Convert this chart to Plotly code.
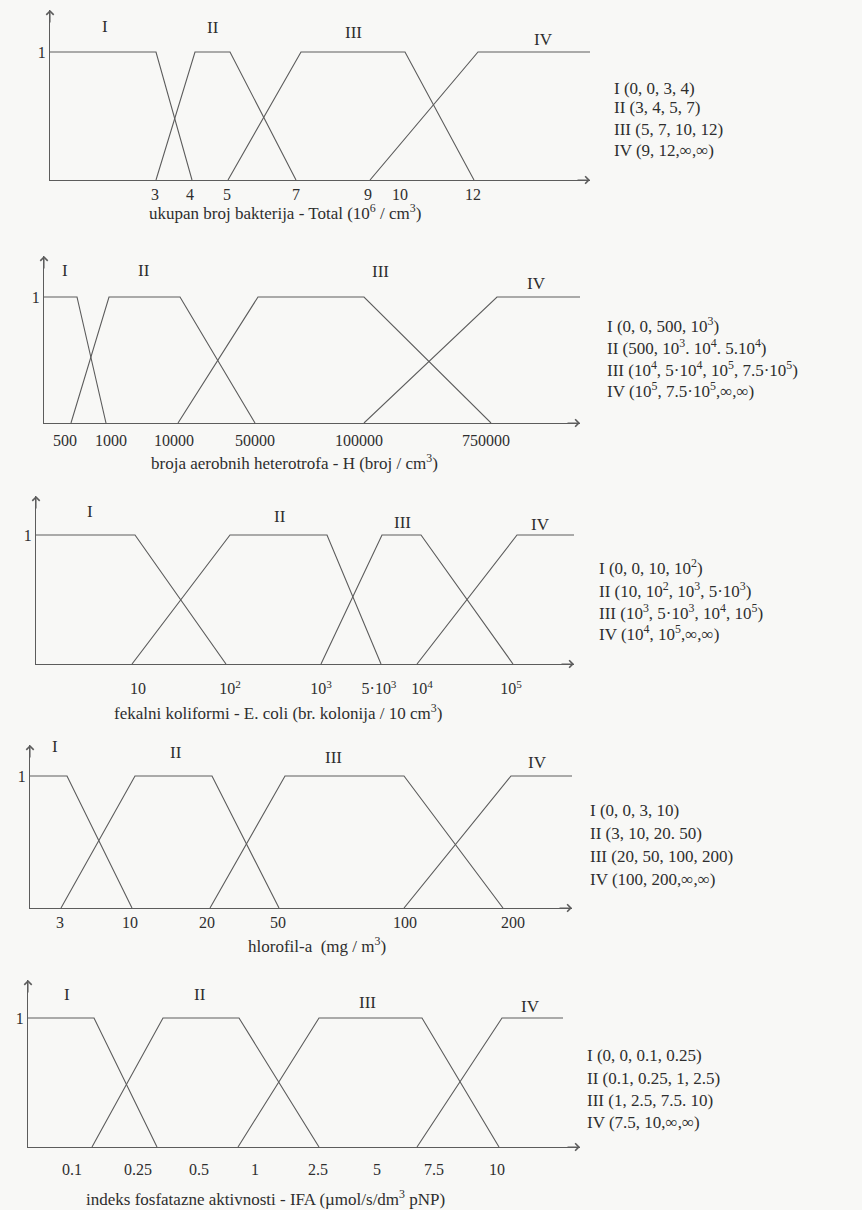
import plotly.graph_objects as go

# membership classes
roman = ["I", "II", "III", "IV"]

# positions are on each panel's schematic (hand-drawn, non-linear) x axis

# --- 1: ukupan broj bakterija ---
total_tick_text = ["3", "4", "5", "7", "9", "10", "12"]
total_tick_pos = [105, 140, 177, 246, 318, 350, 423]
total_sets = [[0, 0, 106, 142], [106, 145, 180, 246], [178, 251, 355, 424], [320, 428, 540, 540]]
total_params = ["(0, 0, 3, 4)", "(3, 4, 5, 7)", "(5, 7, 10, 12)", "(9, 12,∞,∞)"]
total_title = "ukupan broj bakterija - Total (10<sup>6</sup> / cm<sup>3</sup>)"

# --- 2: aerobni heterotrofi ---
hetero_tick_text = ["500", "1000", "10000", "50000", "100000", "750000"]
hetero_tick_pos = [21, 67, 130, 211, 315, 442]
hetero_sets = [[0, 0, 33, 62], [27, 65, 136, 211], [134, 214, 320, 447], [320, 453, 536, 536]]
hetero_params = ["(0, 0, 500, 10<sup>3</sup>)",
                 "(500, 10<sup>3</sup>. 10<sup>4</sup>. 5.10<sup>4</sup>)",
                 "(10<sup>4</sup>, 5·10<sup>4</sup>, 10<sup>5</sup>, 7.5·10<sup>5</sup>)",
                 "(10<sup>5</sup>, 7.5·10<sup>5</sup>,∞,∞)"]
hetero_title = "broja aerobnih heterotrofa - H (broj / cm<sup>3</sup>)"

# --- 3: fekalni koliformi ---
coli_tick_text = ["10", "10<sup>2</sup>", "10<sup>3</sup>", "5·10<sup>3</sup>", "10<sup>4</sup>", "10<sup>5</sup>"]
coli_tick_pos = [102, 194, 285, 343, 386, 475]
coli_sets = [[0, 0, 99, 190], [96, 194, 291, 345], [285, 346, 385, 477], [381, 481, 538, 538]]
coli_params = ["(0, 0, 10, 10<sup>2</sup>)",
               "(10, 10<sup>2</sup>, 10<sup>3</sup>, 5·10<sup>3</sup>)",
               "(10<sup>3</sup>, 5·10<sup>3</sup>, 10<sup>4</sup>, 10<sup>5</sup>)",
               "(10<sup>4</sup>, 10<sup>5</sup>,∞,∞)"]
coli_title = "fekalni koliformi - E. coli (br. kolonija / 10 cm<sup>3</sup>)"

# --- 4: hlorofil-a ---
chl_tick_text = ["3", "10", "20", "50", "100", "200"]
chl_tick_pos = [30, 100, 177, 248, 375, 483]
chl_sets = [[0, 0, 37, 102], [31, 105, 182, 249], [180, 255, 374, 473], [374, 481, 542, 542]]
chl_params = ["(0, 0, 3, 10)", "(3, 10, 20. 50)", "(20, 50, 100, 200)", "(100, 200,∞,∞)"]
chl_title = "hlorofil-a  (mg / m<sup>3</sup>)"

# --- 5: IFA ---
ifa_tick_text = ["0.1", "0.25", "0.5", "1", "2.5", "5", "7.5", "10"]
ifa_tick_pos = [44, 110, 171, 227, 290, 349, 406, 469]
ifa_sets = [[0, 0, 66, 129], [64, 135, 211, 291], [210, 291, 394, 471], [389, 474, 535, 535]]
ifa_params = ["(0, 0, 0.1, 0.25)", "(0.1, 0.25, 1, 2.5)", "(1, 2.5, 7.5. 10)", "(7.5, 10,∞,∞)"]
ifa_title = "indeks fosfatazne aktivnosti - IFA (µmol/s/dm<sup>3</sup> pNP)"

panels = [
    (total_tick_text, total_tick_pos, total_sets, total_params, total_title),
    (hetero_tick_text, hetero_tick_pos, hetero_sets, hetero_params, hetero_title),
    (coli_tick_text, coli_tick_pos, coli_sets, coli_params, coli_title),
    (chl_tick_text, chl_tick_pos, chl_sets, chl_params, chl_title),
    (ifa_tick_text, ifa_tick_pos, ifa_sets, ifa_params, ifa_title),
]

# page geometry (pixels): axis origin x, x length, baseline y, plateau y, arrow top y,
# extra gap under the axis for the tick labels
W, H = 862, 1210
geom = [
    dict(x0=50, xlen=540, base=180, plat=52, top=10, gap=0),
    dict(x0=44, xlen=536, base=423, plat=297, top=256, gap=3),
    dict(x0=36, xlen=538, base=664, plat=535, top=496, gap=10),
    dict(x0=30, xlen=542, base=908, plat=776, top=745, gap=0),
    dict(x0=28, xlen=552, base=1147, plat=1018, top=980, gap=8),
]
roman_pos = [
    [(55, 1.20), (163, 1.19), (303, 1.15), (493, 1.10)],
    [(21, 1.21), (100, 1.21), (336, 1.20), (492, 1.11)],
    [(54, 1.18), (244, 1.14), (366, 1.10), (504, 1.08)],
    [(25, 1.22), (146, 1.18), (303, 1.14), (507, 1.10)],
    [(39, 1.18), (172, 1.18), (339, 1.12), (502, 1.09)],
]
title_pos = [(285, 212), (294, 462), (278, 712), (317, 945), (265, 1198)]
params_pos = [
    (612, [88, 108, 129, 150]),
    (605, [325, 347, 369, 390]),
    (597, [567, 590, 612, 633]),
    (588, [810, 833, 856, 879]),
    (585, [1055, 1078, 1100, 1122]),
]

FONT = "Liberation Serif, Times New Roman, serif"
INK = "#2e2e2e"
LINE = "#5c5c5c"


def trapezoid(a, b, c, d):
    xs, ys = [], []
    if a != b:
        xs.append(a); ys.append(0)
    xs.append(b); ys.append(1)
    xs.append(c); ys.append(1)
    if c != d:
        xs.append(d); ys.append(0)
    return xs, ys


fig = go.Figure()
annotations = []
layout = {}

for i, (ticks, tpos, sets, params, title) in enumerate(panels):
    g = geom[i]
    n = "" if i == 0 else str(i + 1)
    xa, ya = "x" + n, "y" + n
    ymax = (g["base"] - g["top"]) / (g["base"] - g["plat"])

    for s in sets:
        xs, ys = trapezoid(*s)
        fig.add_trace(go.Scatter(x=xs, y=ys, mode="lines", xaxis=xa, yaxis=ya,
                                 line=dict(color=LINE, width=1.1),
                                 hoverinfo="skip", showlegend=False))

    layout["xaxis" + n] = dict(
        domain=[g["x0"] / W, (g["x0"] + g["xlen"]) / W], range=[0, g["xlen"]],
        anchor=ya, showgrid=False, zeroline=False, showline=True,
        linecolor=LINE, linewidth=1.1, ticks="",
        tickvals=tpos, ticktext=ticks, ticklabelstandoff=g["gap"],
        tickfont=dict(family=FONT, size=16, color=INK), fixedrange=True)
    layout["yaxis" + n] = dict(
        domain=[(H - g["base"]) / H, (H - g["top"]) / H], range=[0, ymax],
        anchor=xa, showgrid=False, zeroline=False, showline=True,
        linecolor=LINE, linewidth=1.1, ticks="",
        tickvals=[1], ticktext=["1"],
        tickfont=dict(family=FONT, size=16, color=INK), fixedrange=True)

    # axis arrows
    annotations.append(dict(x=g["xlen"], y=0, xref=xa, yref=ya, ax=-14, ay=0,
                            text="", showarrow=True, arrowhead=4, arrowsize=1.3,
                            arrowwidth=1.1, arrowcolor=LINE))
    annotations.append(dict(x=0, y=ymax, xref=xa, yref=ya, ax=0, ay=14,
                            text="", showarrow=True, arrowhead=4, arrowsize=1.3,
                            arrowwidth=1.1, arrowcolor=LINE))

    # class labels above the trapezoids
    for r, (rx, ry) in zip(roman, roman_pos[i]):
        annotations.append(dict(x=rx, y=ry, xref=xa, yref=ya, text=r, showarrow=False,
                                font=dict(family=FONT, size=17, color=INK)))

    # axis title
    tx, ty = title_pos[i]
    annotations.append(dict(x=tx / W, y=(H - ty) / H, xref="paper", yref="paper",
                            text=title, showarrow=False, xanchor="center", yanchor="middle",
                            font=dict(family=FONT, size=17, color=INK)))

    # parameter list on the right
    px, pys = params_pos[i]
    for r, p, py in zip(roman, params, pys):
        annotations.append(dict(x=px / W, y=(H - py) / H, xref="paper", yref="paper",
                                text=r + " " + p, showarrow=False,
                                xanchor="left", yanchor="middle",
                                font=dict(family=FONT, size=17, color=INK)))

fig.update_layout(**layout)
fig.update_layout(
    width=W, height=H,
    margin=dict(l=0, r=0, t=0, b=0),
    paper_bgcolor="#f8f8f6", plot_bgcolor="rgba(0,0,0,0)",
    annotations=annotations,
    showlegend=False,
)

# drop the default page margin so the figure sits at the window's corner
fig.write_html("out.html", config={"displayModeBar": False},
               post_script="document.body.style.margin='0';")
